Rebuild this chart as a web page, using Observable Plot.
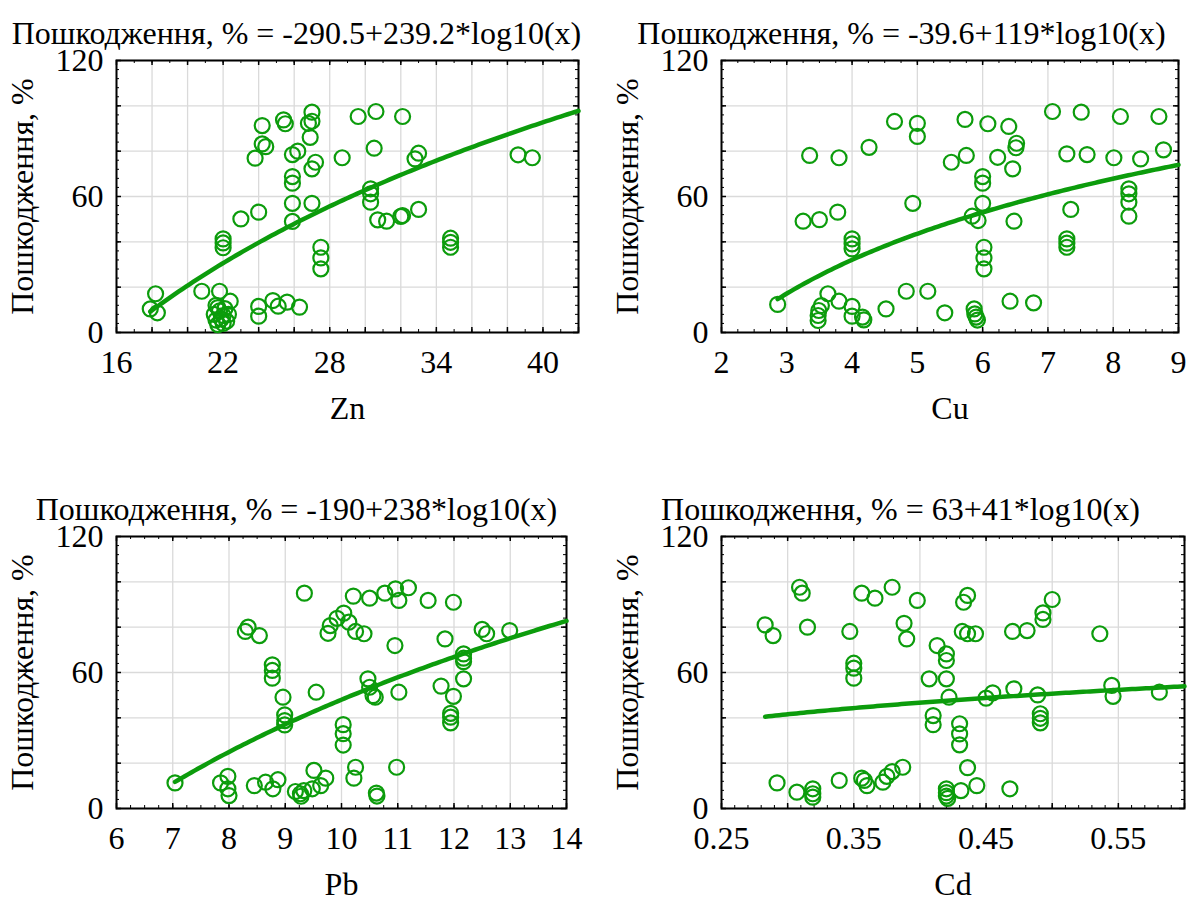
<!DOCTYPE html>
<html>
<head>
<meta charset="utf-8">
<script src="https://cdn.jsdelivr.net/npm/d3@7"></script>
<script src="https://cdn.jsdelivr.net/npm/@observablehq/plot@0.6"></script>
<style>
  body { margin: 0; background: #fff; }
  #chart { position: relative; width: 1193px; height: 903px; background: #fff; overflow: hidden; }
  .panel { position: absolute; }
  #chart svg, #chart svg text { font-family: "Liberation Serif", "Times New Roman", serif !important; }
</style>
</head>
<body>
<div id="chart"></div>
<script>
// ---- Zn ----
const znX = [17.9, 18.2, 18.3, 20.8, 21.8, 22.4, 21.6, 21.5, 21.6, 21.7, 21.8, 21.9, 22.0, 22.0, 22.1, 22.2, 22.3, 21.7,
  22.0, 22.0, 22.0, 23.0, 24.0, 23.8, 24.2, 24.2, 24.4, 24.0, 24.0, 24.8, 25.1, 25.6, 26.3, 25.4, 25.5, 25.9, 26.2,
  25.9, 25.9, 25.9, 25.9, 27.0, 26.8, 27.0, 26.9, 27.2, 27.0, 27.0, 27.5, 27.5, 27.5, 28.7, 29.6, 30.6, 32.1, 30.5,
  33.0, 32.8, 30.3, 30.3, 30.3, 30.7, 31.2, 32.0, 32.1, 33.0, 34.8, 34.8, 34.8, 38.6, 39.4];
const znY = [10.4, 17.1, 8.7, 18.2, 18.2, 13.8, 12.0, 8.0, 5.5, 3.5, 9.5, 6.0, 4.0, 7.5, 10.5, 5.0, 8.0, 11.0,
  41.3, 39.5, 37.4, 50.1, 53.1, 76.9, 91.3, 83.2, 82.0, 11.5, 7.2, 14.1, 11.6, 13.4, 11.2, 93.8, 92.1, 78.5, 80.0,
  68.8, 65.9, 57.0, 49.0, 97.2, 92.3, 93.2, 86.1, 75.1, 72.2, 57.0, 37.6, 32.9, 28.1, 77.1, 95.3, 97.5, 95.3, 81.3,
  79.1, 76.6, 63.4, 61.2, 57.5, 49.7, 49.1, 51.2, 51.6, 54.3, 41.6, 39.8, 37.6, 78.4, 77.1];

// ---- Cu ----
const cuX = [2.86, 3.35, 3.80, 4.26, 4.65, 5.00, 5.00, 5.52, 3.25, 3.50, 3.78, 4.00, 4.00, 4.00, 4.93, 3.63, 3.53,
  3.49, 3.48, 3.48, 3.80, 4.00, 4.00, 4.16, 4.18, 4.52, 4.83, 5.16, 5.42, 5.73, 6.08, 6.40, 7.07, 7.51, 8.11, 8.70,
  5.75, 6.23, 6.52, 6.51, 6.46, 7.29, 7.60, 8.01, 8.42, 8.77, 6.00, 6.00, 6.00, 5.84, 5.93, 6.48, 7.35, 6.02, 6.02,
  6.02, 7.29, 7.29, 7.29, 8.24, 8.24, 8.24, 8.24, 5.87, 5.88, 5.90, 5.92, 6.42, 6.78];
const cuY = [12.4, 78.1, 77.1, 81.7, 93.1, 92.3, 86.5, 75.1, 49.1, 49.8, 53.1, 41.3, 39.1, 36.9, 57.0, 17.1, 11.9,
  9.7, 7.5, 5.3, 13.8, 11.5, 7.2, 6.8, 5.6, 10.4, 18.2, 18.2, 8.7, 94.0, 92.1, 90.9, 97.5, 97.2, 95.3, 95.3,
  78.1, 77.3, 83.5, 81.5, 72.2, 78.8, 78.5, 77.1, 76.6, 80.6, 68.8, 65.9, 57.0, 51.3, 49.4, 49.1, 54.3, 37.6, 32.9,
  28.1, 41.3, 39.4, 37.6, 63.4, 61.2, 57.5, 51.3, 10.4, 8.2, 6.8, 5.5, 13.8, 13.1];

// ---- Pb ----
const pbX = [7.04, 9.34, 8.29, 8.34, 8.54, 8.77, 8.77, 8.77, 8.96, 8.99, 8.99, 8.99, 9.55, 9.76, 9.80, 10.04, 10.13,
  10.25, 10.40, 10.21, 10.50, 10.77, 10.96, 11.02, 11.19, 11.54, 11.99, 10.95, 11.84, 12.50, 12.58, 12.99, 12.17,
  12.17, 12.17, 12.17, 11.77, 11.99, 11.94, 11.94, 11.94, 10.47, 10.50, 10.56, 10.60, 11.02, 10.03, 10.03, 10.03,
  10.25, 10.22, 10.98, 10.62, 10.63, 7.85, 7.98, 7.98, 8.00, 8.45, 8.65, 8.78, 8.87, 9.18, 9.27, 9.33, 9.28, 9.48,
  9.51, 9.63, 9.72, 9.92];
const pbY = [11.3, 95.0, 78.1, 80.0, 76.3, 63.4, 60.9, 57.5, 49.1, 41.3, 38.8, 36.9, 51.3, 77.3, 80.7, 86.2, 82.2,
  78.1, 77.1, 93.7, 92.8, 95.0, 96.9, 91.8, 97.4, 91.8, 91.0, 71.9, 74.8, 79.0, 77.1, 78.5, 68.2,
  66.3, 64.8, 57.2, 54.0, 49.5, 42.0, 40.3, 37.8, 57.2, 53.5, 49.8, 49.1, 51.3, 37.0, 33.0, 28.0,
  18.2, 13.4, 18.2, 6.8, 5.5, 11.3, 14.2, 8.7, 5.7, 10.1, 11.6, 8.7, 12.7, 7.5, 6.5, 7.9, 5.4, 8.7,
  16.8, 10.1, 13.4, 83.9];

// ---- Cd ----
const cdX = [0.283, 0.289, 0.292, 0.307, 0.309, 0.311, 0.315, 0.319, 0.319, 0.319, 0.339, 0.347, 0.350, 0.350, 0.350,
  0.356, 0.356, 0.358, 0.360, 0.366, 0.372, 0.375, 0.379, 0.379, 0.387, 0.388, 0.390, 0.398, 0.413, 0.420, 0.420,
  0.407, 0.420, 0.422, 0.410, 0.410, 0.420, 0.420, 0.420, 0.421, 0.436, 0.433, 0.432, 0.436, 0.442, 0.430, 0.430,
  0.430, 0.436, 0.431, 0.443, 0.450, 0.455, 0.470, 0.481, 0.471, 0.468, 0.489, 0.493, 0.493, 0.500, 0.491, 0.491,
  0.491, 0.536, 0.545, 0.546, 0.581];
const cdY = [81.0, 76.3, 11.3, 7.2, 97.6, 95.0, 80.0, 8.7, 6.5, 5.0, 12.4, 78.1, 64.1, 61.9, 57.5,
  95.0, 13.4, 12.4, 10.1, 92.8, 11.6, 14.2, 16.3, 97.6, 18.2, 81.7, 74.8, 91.8, 71.9, 68.2, 65.3,
  57.2, 57.2, 49.1, 41.0, 37.0, 8.7, 7.0, 5.5, 4.5, 94.0, 91.0, 78.1, 77.1, 77.1, 37.4, 32.9,
  28.1, 18.0, 7.9, 10.1, 48.7, 51.0, 78.1, 78.5, 52.8, 8.7, 50.1, 86.3, 83.4, 92.2, 41.8, 39.8,
  37.8, 77.1, 54.3, 49.5, 51.3];

// Logarithmic fits: y = a + b * log10(x)
const fitA = [-290.5, -39.6, -190, 63];
const fitB = [239.2, 119, 238, 41];
const fitTitles = [
  "Пошкодження, % = -290.5+239.2*log10(x)",
  "Пошкодження, % = -39.6+119*log10(x)",
  "Пошкодження, % = -190+238*log10(x)",
  "Пошкодження, % = 63+41*log10(x)"
];
const elements = ["Zn", "Cu", "Pb", "Cd"];
const yLabel = "Пошкодження, %";

// Axis tick labels
const xTickLabels = [[16, 22, 28, 34, 40], [2, 3, 4, 5, 6, 7, 8, 9], [6, 7, 8, 9, 10, 11, 12, 13, 14], [0.25, 0.35, 0.45, 0.55]];
const yTickLabels = [0, 60, 120];

// Layout of the 2x2 grid
const layout = [
  {left: 0,   top: 0,   width: 596, ml: 116, mr: 18, domain: [16, 42],    grid: 2,    minor: 1,    titleX: 296},
  {left: 596, top: 0,   width: 597, ml: 125, mr: 15, domain: [2, 9],      grid: 1,    minor: 0.25, titleX: 305},
  {left: 0,   top: 476, width: 596, ml: 116, mr: 30, domain: [6, 14],     grid: 1,    minor: 0.25, titleX: 296},
  {left: 596, top: 476, width: 597, ml: 125, mr: 9,  domain: [0.25, 0.6], grid: 0.05, minor: 0.01, titleX: 304}
];
const seriesX = [znX, cuX, pbX, cdX];
const seriesY = [znY, cuY, pbY, cdY];

const GREEN = "#0c9c0c";
const FONT = "Liberation Serif, Times New Roman, serif";
const FS = 32;
const H = 427, MT = 60, MB = 95;

const steps = (lo, hi, s) => d3.range(Math.round((hi - lo) / s) + 1).map(i => +(lo + i * s).toFixed(6));

function panel(k) {
  const L = layout[k];
  const [x0, x1] = L.domain;
  const iw = L.width - L.ml - L.mr, ih = H - MT - MB;
  const pts = seriesX[k].map((x, i) => ({x, y: seriesY[k][i]}));
  const xmin = d3.min(seriesX[k]);
  const fit = d3.range(121).map(i => {
    const x = xmin + (x1 - xmin) * i / 120;
    return {x, y: fitA[k] + fitB[k] * Math.log10(x)};
  });
  const gx = steps(x0, x1, L.grid), mx = steps(x0, x1, L.minor);
  const gy = steps(0, 120, 20), my = steps(0, 120, 4);
  const tick = {stroke: "#000", strokeWidth: 1};
  const txt = {fontSize: FS, fontFamily: FONT, fill: "#000"};

  return Plot.plot({
    width: L.width, height: H,
    marginLeft: L.ml, marginRight: L.mr, marginTop: MT, marginBottom: MB,
    x: {domain: L.domain},
    y: {domain: [0, 120]},
    style: {fontFamily: FONT, fontSize: FS + "px", color: "#000", background: "transparent", overflow: "visible"},
    marks: [
      Plot.gridX(gx, {stroke: "#dadada", strokeOpacity: 1, strokeWidth: 1.3}),
      Plot.gridY(gy, {stroke: "#dadada", strokeOpacity: 1, strokeWidth: 1.3}),
      // inward minor ticks on all four sides
      Plot.ruleX(mx, {...tick, insetTop: ih - 3}),
      Plot.ruleX(mx, {...tick, insetBottom: ih - 3}),
      Plot.ruleY(my, {...tick, insetRight: iw - 3}),
      Plot.ruleY(my, {...tick, insetLeft: iw - 3}),
      // inward major ticks
      Plot.ruleX(gx, {...tick, strokeWidth: 1.5, insetTop: ih - 5}),
      Plot.ruleX(gx, {...tick, strokeWidth: 1.5, insetBottom: ih - 5}),
      Plot.ruleY(gy, {...tick, strokeWidth: 1.5, insetRight: iw - 5}),
      Plot.ruleY(gy, {...tick, strokeWidth: 1.5, insetLeft: iw - 5}),
      Plot.axisX(xTickLabels[k], {...txt, tickSize: 0, tickPadding: 18, label: null}),
      Plot.axisY(yTickLabels, {...txt, tickSize: 0, tickPadding: 13, label: null}),
      Plot.frame({stroke: "#000", strokeWidth: 2}),
      Plot.dot(pts, {x: "x", y: "y", r: 7.5, stroke: GREEN, strokeWidth: 2.2, fill: "none"}),
      Plot.line(fit, {x: "x", y: "y", stroke: GREEN, strokeWidth: 4.5}),
      Plot.text([fitTitles[k]], {...txt, text: d => d, frameAnchor: "top-left", textAnchor: "middle", dx: L.titleX - L.ml, dy: -39}),
      Plot.text([elements[k]], {...txt, text: d => d, frameAnchor: "bottom", textAnchor: "middle", dy: 86}),
      Plot.text([yLabel], {...txt, text: d => d, frameAnchor: "left", textAnchor: "middle", dx: -94, rotate: -90})
    ]
  });
}

const chart = document.getElementById("chart");
layout.forEach((L, k) => {
  const div = document.createElement("div");
  div.className = "panel";
  div.style.left = L.left + "px";
  div.style.top = L.top + "px";
  div.appendChild(panel(k));
  chart.appendChild(div);
});
</script>
</body>
</html>
